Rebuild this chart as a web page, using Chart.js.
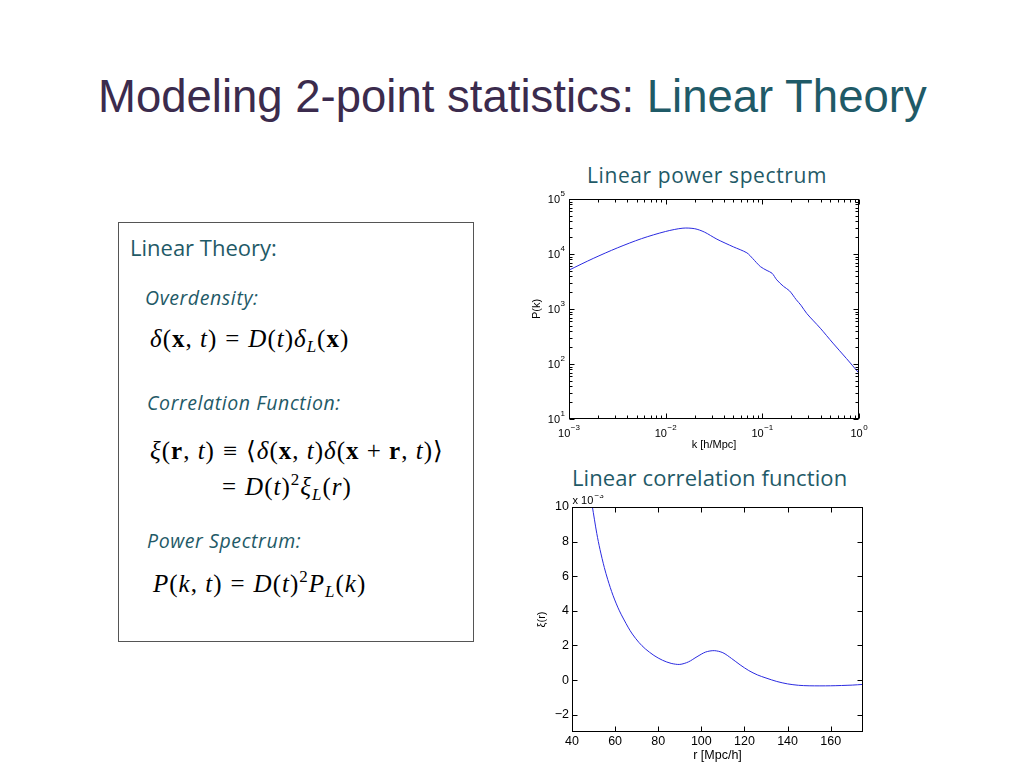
<!DOCTYPE html>
<html>
<head>
<meta charset="utf-8">
<title>Modeling 2-point statistics: Linear Theory</title>
<script src="https://cdn.jsdelivr.net/npm/chart.js@4.4.0/dist/chart.umd.min.js"></script>
<style>
  body { margin: 0; background: #fff; }
  #slide { position: relative; width: 1024px; height: 768px; overflow: hidden; background: #fff;
           font-family: "Liberation Sans", Arial, sans-serif; }
  .abs { position: absolute; white-space: nowrap; line-height: 1; }
  #title { left: 98px; top: 74px; font-size: 45.5px; color: #3b2b4d; }
  #title span { color: #1f5a67; }
  .sub { font-family: "Open Sans", Lato, sans-serif; color: #1f5a67; }
  #box { position: absolute; left: 118px; top: 222px; width: 356px; height: 420px; border: 1px solid #555; box-sizing: border-box; }
  .eq { font-family: "Liberation Serif", "DejaVu Serif", serif; font-size: 25px; color: #000; letter-spacing: 1px; }
  .eq b { font-weight: bold; font-style: normal; }
  .eq .op { margin: 0 8px; }
  .eq sub { font-size: 17px; vertical-align: -5px; line-height: 0; }
  .eq sup { font-size: 17px; vertical-align: 10px; line-height: 0; }
  .lbl { font-family: "Open Sans", Lato, sans-serif; font-style: italic; color: #1f5a67; font-size: 19.5px; letter-spacing: 0.6px; }
  canvas { position: absolute; }
</style>
</head>
<body>
<div id="slide">
  <div id="title" class="abs">Modeling 2-point statistics: <span>Linear Theory</span></div>

  <div id="box"></div>
  <div class="abs sub" style="left:130px; top:235.5px; font-size:22px;">Linear Theory:</div>
  <div class="abs lbl" style="left:145px; top:287.7px;">Overdensity:</div>
  <div class="abs eq" style="left:150px; top:326px;"><i>δ</i>(<b>x</b>, <i>t</i>)<span class="op">=</span><i>D</i>(<i>t</i>)<i>δ</i><sub><i>L</i></sub>(<b>x</b>)</div>
  <div class="abs lbl" style="left:147px; top:392.7px;">Correlation Function:</div>
  <div class="abs eq" style="left:150px; top:438px;"><i>ξ</i>(<b>r</b>, <i>t</i>)<span class="op">≡</span>⟨<i>δ</i>(<b>x</b>, <i>t</i>)<i>δ</i>(<b>x</b> + <b>r</b>, <i>t</i>)⟩</div>
  <div class="abs eq" style="left:214px; top:474px;"><span class="op">=</span><i>D</i>(<i>t</i>)<sup>2</sup><i>ξ</i><sub><i>L</i></sub>(<i>r</i>)</div>
  <div class="abs lbl" style="left:147px; top:530.7px;">Power Spectrum:</div>
  <div class="abs eq" style="left:153px; top:571px;"><i>P</i>(<i>k</i>, <i>t</i>)<span class="op">=</span><i>D</i>(<i>t</i>)<sup>2</sup><i>P</i><sub><i>L</i></sub>(<i>k</i>)</div>

  <div class="abs sub" style="left:587px; top:165px; font-size:21px; letter-spacing:0.6px;">Linear power spectrum</div>
  <div class="abs sub" style="left:572px; top:465.5px; font-size:22px; letter-spacing:0.1px;">Linear correlation function</div>

  <canvas id="pkChart" width="350" height="265" style="left:520px; top:190px;"></canvas>
  <canvas id="xiChart" width="350" height="273" style="left:520px; top:495px;"></canvas>
</div>

<script>
// Linear power spectrum P(k)
const kValues  = [0.001, 0.00178, 0.00316, 0.00562, 0.01, 0.0151, 0.02, 0.0251, 0.0339, 0.0501,
                  0.0692, 0.0794, 0.0955, 0.112, 0.126, 0.141, 0.166, 0.191, 0.224, 0.251,
                  0.288, 0.398, 0.537, 0.741, 1.0];
const pkValues = [5100, 8300, 12900, 19000, 25700, 29500, 28800, 25100, 18600, 13500,
                  10500, 8300, 5900, 5000, 4470, 3390, 2570, 2140, 1480, 1170,
                  830, 447, 240, 126, 68];

// Linear correlation function xi(r), in units of 1e-3
const rValues  = [49.4, 51.5, 53, 55, 56.6, 59, 62, 66, 68, 71, 74, 78, 82, 86, 90, 94, 98,
                  102, 106, 110, 114, 118, 122, 126, 130, 135, 140, 145, 150, 160, 170, 175];
const xiValues = [10.05, 8.47, 7.54, 6.5, 5.8, 4.9, 4.0, 3.06, 2.66, 2.18, 1.805, 1.425, 1.145, 0.965, 0.905, 1.05, 1.35,
                  1.62, 1.70, 1.58, 1.25, 0.88, 0.55, 0.30, 0.12, -0.08, -0.22, -0.30, -0.33, -0.33, -0.29, -0.25];

// Tick positions and labels
const kTicks = [0.001, 0.01, 0.1, 1];
const kTickExp = ['−3', '−2', '−1', '0'];
const pTicks = [10, 100, 1000, 10000, 100000];
const pTickExp = ['1', '2', '3', '4', '5'];
const rTicks = [40, 60, 80, 100, 120, 140, 160];
const xiTicks = [-2, 0, 2, 4, 6, 8, 10];
const xiTickLabels = ['−2', '0', '2', '4', '6', '8', '10'];

const lineBlue = '#2a2ae0';
const SANS = '"Liberation Sans", Arial, sans-serif';

function expFor(ticks, exps, v) {
  for (let i = 0; i < ticks.length; i++) {
    if (Math.abs(v - ticks[i]) <= Math.abs(ticks[i]) * 1e-6) return exps[i];
  }
  return null;
}

function labelFor(ticks, labels) {
  return v => expFor(ticks, labels, v) || '';
}

// minor positions on a log axis: 2..9 times each decade
function logMinors(min, max) {
  const out = [];
  for (let d = min; d < max * 0.999; d *= 10) {
    for (let m = 2; m <= 9; m++) out.push(d * m);
  }
  return out;
}

// "10" with a raised exponent, as Matlab prints log ticks
function drawPow(ctx, exp, x, baseline, align) {
  ctx.font = '11px ' + SANS;
  const wb = ctx.measureText('10').width;
  ctx.font = '8px ' + SANS;
  const we = ctx.measureText(exp).width;
  const total = wb + 0.5 + we;
  const start = align === 'right' ? x - total : x - total / 2;
  ctx.font = '11px ' + SANS;
  ctx.fillText('10', start, baseline);
  ctx.font = '8px ' + SANS;
  ctx.fillText(exp, start + wb + 0.5, baseline - 7);
}

// Matlab style: closed box, inward ticks on all four sides
const boxTicks = {
  id: 'boxTicks',
  afterDraw(chart, args, opts) {
    const { ctx, chartArea: a, scales } = chart;
    const L = Math.round(a.left) + 0.5, R = Math.round(a.right) - 0.5;
    const T = Math.round(a.top) + 0.5, B = Math.round(a.bottom) - 0.5;
    ctx.save();
    ctx.strokeStyle = '#000';
    ctx.lineWidth = 1;
    ctx.beginPath();
    const tx = (v, len) => {
      const x = Math.round(scales.x.getPixelForValue(v)) + 0.5;
      ctx.moveTo(x, B); ctx.lineTo(x, B - len);
      ctx.moveTo(x, T); ctx.lineTo(x, T + len);
    };
    const ty = (v, len) => {
      const y = Math.round(scales.y.getPixelForValue(v)) + 0.5;
      ctx.moveTo(L, y); ctx.lineTo(L + len, y);
      ctx.moveTo(R, y); ctx.lineTo(R - len, y);
    };
    opts.xMajor.forEach(v => tx(v, 5));
    (opts.xMinor || []).forEach(v => tx(v, 3));
    opts.yMajor.forEach(v => ty(v, 5));
    (opts.yMinor || []).forEach(v => ty(v, 3));
    ctx.stroke();
    ctx.strokeRect(L, T, R - L, B - T);

    ctx.fillStyle = '#000';
    ctx.textBaseline = 'alphabetic';
    ctx.textAlign = 'left';
    if (opts.logLabels) {
      scales.x.ticks.forEach(t => {
        const e = expFor(kTicks, kTickExp, t.value);
        if (e !== null) drawPow(ctx, e, scales.x.getPixelForValue(t.value), a.bottom + 18, 'center');
      });
      scales.y.ticks.forEach(t => {
        const e = expFor(pTicks, pTickExp, t.value);
        if (e !== null) drawPow(ctx, e, a.left - 4, scales.y.getPixelForValue(t.value) + 4, 'right');
      });
    }
    if (opts.multiplier) {
      ctx.font = '11px ' + SANS;
      ctx.fillText('x 10', L, T - 3.5);
      ctx.font = '8px ' + SANS;
      ctx.fillText('−3', L + 22, T - 10);
    }
    ctx.restore();
  }
};

new Chart(document.getElementById('pkChart'), {
  type: 'line',
  data: {
    datasets: [{
      data: kValues.map((k, i) => ({ x: k, y: pkValues[i] })),
      borderColor: lineBlue,
      borderWidth: 1,
      pointRadius: 0,
      fill: false,
      tension: 0.3
    }]
  },
  options: {
    responsive: false,
    animation: false,
    layout: { padding: { top: 9, right: 11, left: 0, bottom: 0 } },
    plugins: {
      legend: { display: false },
      tooltip: { enabled: false },
      boxTicks: { xMajor: kTicks, xMinor: logMinors(0.001, 1), yMajor: pTicks, yMinor: logMinors(10, 100000), logLabels: true }
    },
    scales: {
      x: {
        type: 'logarithmic', min: 0.001, max: 1,
        afterBuildTicks: ax => { ax.ticks = kTicks.map(v => ({ value: v })); },
        afterFit: ax => { ax.height = 36; },
        grid: { display: false, drawTicks: false },
        border: { display: false },
        ticks: { display: false },
        title: { display: true, text: 'k [h/Mpc]', color: '#000', font: { family: SANS, size: 11 }, padding: { top: 0, bottom: 3.4 } }
      },
      y: {
        type: 'logarithmic', min: 10, max: 100000,
        afterBuildTicks: ax => { ax.ticks = pTicks.map(v => ({ value: v })); },
        afterFit: ax => { ax.width = 49; },
        grid: { display: false, drawTicks: false },
        border: { display: false },
        ticks: { display: false },
        title: { display: true, text: 'P(k)', color: '#000', font: { family: SANS, size: 11 }, padding: { top: 10, bottom: 0 } }
      }
    }
  },
  plugins: [boxTicks]
});

new Chart(document.getElementById('xiChart'), {
  type: 'line',
  data: {
    datasets: [{
      data: rValues.map((r, i) => ({ x: r, y: xiValues[i] })),
      borderColor: lineBlue,
      borderWidth: 1,
      pointRadius: 0,
      fill: false,
      tension: 0.3
    }]
  },
  options: {
    responsive: false,
    animation: false,
    layout: { padding: { top: 12, right: 7, left: 0, bottom: 0 } },
    plugins: {
      legend: { display: false },
      tooltip: { enabled: false },
      boxTicks: { xMajor: rTicks, yMajor: xiTicks, multiplier: true }
    },
    scales: {
      x: {
        type: 'linear', min: 40, max: 175,
        afterBuildTicks: ax => { ax.ticks = rTicks.map(v => ({ value: v })); },
        afterFit: ax => { ax.height = 36; },
        grid: { display: false, drawTicks: false },
        border: { display: false },
        ticks: { autoSkip: false, maxRotation: 0, color: '#000', font: { family: SANS, size: 12.5 }, padding: 2 },
        title: { display: true, text: 'r [Mpc/h]', color: '#000', font: { family: SANS, size: 12.5 }, padding: { top: 0, bottom: 5 } }
      },
      y: {
        type: 'linear', min: -3, max: 10,
        afterBuildTicks: ax => { ax.ticks = xiTicks.map(v => ({ value: v })); },
        afterFit: ax => { ax.width = 52; },
        grid: { display: false, drawTicks: false },
        border: { display: false },
        ticks: { callback: labelFor(xiTicks, xiTickLabels), autoSkip: false, color: '#000', font: { family: SANS, size: 12.5 }, padding: 3 },
        title: { display: true, text: 'ξ(r)', color: '#000', font: { family: SANS, size: 11 }, padding: { top: 15, bottom: 0 } }
      }
    }
  },
  plugins: [boxTicks]
});
</script>
</body>
</html>
